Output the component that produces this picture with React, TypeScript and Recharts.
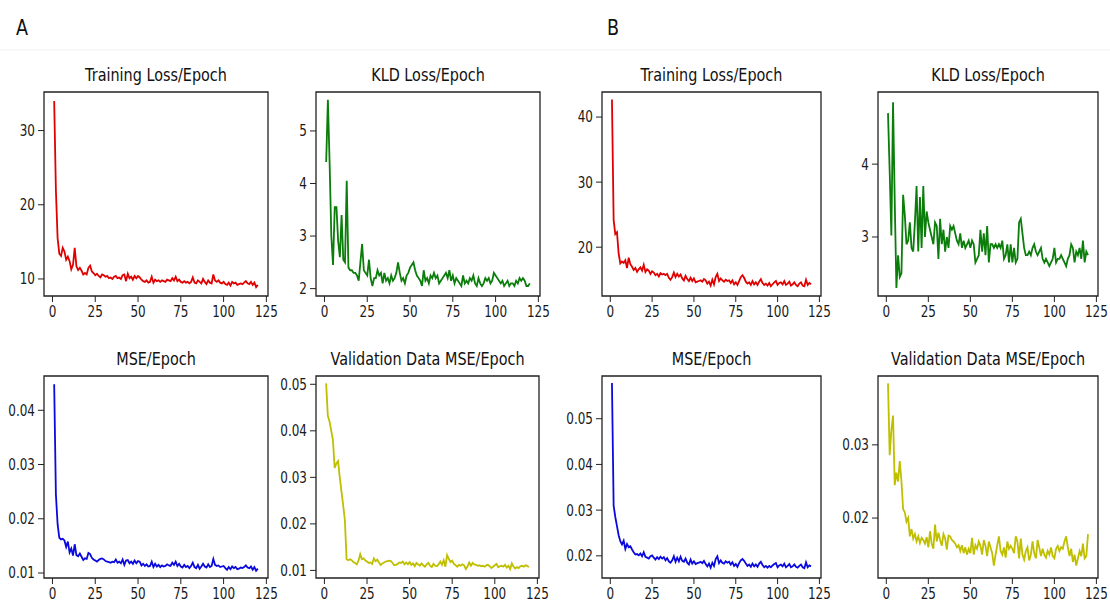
import { LineChart, Line, XAxis, YAxis, ReferenceArea } from "recharts";

// epochs 1..120
const EPOCHS = Array.from({ length: 120 }, (_, i) => i + 1);
const X_TICKS = [0, 25, 50, 75, 100, 125];
const X_DOMAIN: [number, number] = [-4.95, 125.95];

// --- panel A ---
const trainLossA = [
  34.0, 22.0, 15.5, 13.4, 13.1, 14.2, 13.7, 12.6, 13.0, 12.4,
  11.3, 11.9, 14.2, 11.7, 11.2, 11.5, 11.1, 10.6, 10.8, 10.6,
  11.5, 11.8, 11.0, 10.8, 10.5, 10.7, 10.4, 10.2, 10.6, 10.5,
  10.3, 10.4, 10.1, 10.2, 10.0, 10.3, 10.4, 10.1, 10.2, 10.0,
  10.5, 10.6, 9.7, 10.7, 10.1, 10.3, 9.9, 10.4, 10.1, 10.4,
  10.2, 9.9, 9.7, 9.6, 9.8, 9.5, 9.6, 10.3, 9.5, 9.9,
  9.7, 9.8, 9.6, 9.8, 9.7, 9.6, 9.9, 9.8, 9.7, 10.1,
  9.8, 10.3, 9.7, 9.9, 9.6, 9.5, 9.7, 9.5, 9.6, 9.4,
  9.6, 10.2, 9.5, 9.4, 9.8, 9.6, 9.4, 10.0, 9.6, 9.3,
  9.8, 9.5, 9.4, 10.6, 9.8, 9.6, 9.8, 9.5, 9.4, 9.6,
  9.3, 9.2, 9.5, 9.1, 9.6, 9.4, 9.5, 9.2, 9.3, 9.4,
  9.3, 9.5, 9.7, 9.4, 9.3, 9.6, 9.2, 9.5, 8.9, 9.2,
];

const kldLossA = [
  4.41, 5.59, 4.4, 3.0, 2.45, 3.55, 3.55, 2.9, 2.6, 3.4,
  2.55, 2.5, 4.05, 2.4, 2.35, 2.35, 2.3, 2.3, 2.25, 2.15,
  2.5, 2.85, 2.35, 2.3, 2.25, 2.55, 2.2, 2.05, 2.2, 2.2,
  2.35, 2.25, 2.3, 2.1, 2.3, 2.15, 2.2, 2.1, 2.25, 2.15,
  2.2, 2.3, 2.5, 2.3, 2.15, 2.2, 2.1, 2.25, 2.3, 2.4,
  2.45, 2.5, 2.35, 2.25, 2.2, 2.15, 2.05, 2.35, 2.15, 2.2,
  2.1, 2.25, 2.2, 2.3, 2.2, 2.25, 2.1, 2.15, 2.2, 2.25,
  2.3, 2.2, 2.35, 2.15, 2.25, 2.1, 2.2, 2.15, 2.1, 2.05,
  2.25, 2.1, 2.15, 2.1, 2.2, 2.15, 2.25, 2.1, 2.05, 2.2,
  2.1, 2.05, 2.1, 2.2, 2.15, 2.2, 2.1, 2.15, 2.3, 2.25,
  2.2, 2.15, 2.1, 2.15, 2.05, 2.1, 2.15, 2.05, 2.1, 2.1,
  2.05, 2.15, 2.1, 2.2, 2.15, 2.2, 2.15, 2.05, 2.05, 2.1,
];

const mseA = [
  0.0448, 0.0245, 0.019, 0.0165, 0.0162, 0.0163, 0.016, 0.0148, 0.0158, 0.0138,
  0.0145, 0.0132, 0.0153, 0.0133, 0.0131, 0.0136, 0.013, 0.0124, 0.0127, 0.0126,
  0.0137, 0.0135, 0.0128, 0.0125, 0.0123, 0.0121, 0.0124, 0.0126, 0.0127, 0.0125,
  0.0122, 0.0121, 0.012, 0.0119, 0.0121, 0.012, 0.0125, 0.0119, 0.0121, 0.0118,
  0.0125, 0.0115, 0.0123, 0.0124, 0.0118, 0.0121, 0.0117, 0.0123, 0.0118, 0.0122,
  0.0121, 0.0114, 0.0117, 0.0113, 0.0116, 0.0112, 0.0113, 0.0121, 0.0111, 0.0117,
  0.0112, 0.0115, 0.0111, 0.0114, 0.0112, 0.0113, 0.0116, 0.0114, 0.0113, 0.0119,
  0.0115, 0.0121, 0.0113, 0.0117, 0.0112, 0.011, 0.0115, 0.0111, 0.0113, 0.0109,
  0.0113, 0.0119, 0.0111, 0.0109, 0.0115, 0.0108, 0.0112, 0.0117, 0.0112, 0.011,
  0.0116, 0.0111, 0.0113, 0.0126, 0.0115, 0.0113, 0.0114, 0.0111, 0.0112, 0.0113,
  0.0109, 0.0106, 0.0111, 0.0107, 0.0112, 0.0109, 0.0111, 0.0107, 0.0108, 0.011,
  0.0109, 0.0111, 0.0114, 0.011, 0.0109, 0.0112, 0.0106, 0.0111, 0.0104, 0.0108,
];

const valMseA = [
  0.0502, 0.0432, 0.042, 0.04, 0.038, 0.032, 0.033, 0.0335, 0.03, 0.027,
  0.024, 0.0208, 0.0124, 0.0122, 0.0124, 0.0122, 0.0118, 0.0116, 0.0113, 0.0121,
  0.0135, 0.0124, 0.0126, 0.0121, 0.0119, 0.0116, 0.0117, 0.0114, 0.0126, 0.012,
  0.0123, 0.0117, 0.0112, 0.0115, 0.0117, 0.0119, 0.012, 0.0121, 0.012, 0.0116,
  0.0111, 0.0112, 0.0114, 0.0117, 0.0116, 0.0119, 0.0113, 0.0117, 0.0113, 0.0118,
  0.0112, 0.0115, 0.0109, 0.0116, 0.0113, 0.011, 0.0115, 0.0111, 0.0108, 0.0113,
  0.0116, 0.011, 0.0107, 0.0114, 0.011, 0.0109, 0.0113, 0.0119, 0.0112, 0.0122,
  0.0108, 0.0133, 0.0125, 0.0118, 0.0121, 0.0114, 0.0111, 0.0108, 0.0112, 0.011,
  0.0113, 0.0111, 0.0103, 0.0109, 0.0117, 0.011, 0.0116, 0.0113, 0.0112, 0.011,
  0.0111, 0.0109, 0.011, 0.0108, 0.0111, 0.0112, 0.0109, 0.0105, 0.0108, 0.0111,
  0.0114, 0.0107, 0.0109, 0.011, 0.0108, 0.0112, 0.0106, 0.011, 0.0103, 0.0115,
  0.0108, 0.0104, 0.0107, 0.0105, 0.0109, 0.011, 0.0108, 0.0111, 0.011, 0.0107,
];

// --- panel B ---
const trainLossB = [
  42.7, 24.2, 22.0, 22.3, 19.0, 17.5, 17.8, 17.6, 18.0, 16.8,
  18.4, 17.4, 17.0, 16.5, 16.8, 16.2, 16.6, 16.9, 16.4, 17.3,
  16.2, 16.6, 16.4, 15.9, 16.3, 16.1, 15.7, 15.9, 15.5, 16.0,
  15.8, 15.9, 15.7, 15.9, 15.3, 15.0, 15.4, 16.1, 15.4, 15.9,
  15.5, 15.8, 15.2, 14.9, 15.6, 15.1, 14.8, 15.3, 14.8, 15.2,
  14.6, 14.7, 14.8, 14.9, 14.7, 15.1, 14.9, 14.4, 14.7, 14.1,
  15.0, 14.3, 15.4, 15.9, 14.8, 15.2, 14.9, 14.7, 15.0, 14.8,
  14.9, 14.5, 14.9, 14.3, 14.6, 14.2, 14.8, 15.4, 15.7, 15.3,
  14.7, 14.4, 14.6, 14.2, 14.8, 14.3, 14.6, 14.2, 14.7, 15.1,
  14.5, 14.2, 14.4, 14.1, 14.5, 14.0, 14.3, 14.6, 14.8, 14.2,
  14.5, 14.6, 14.3, 14.8, 14.2, 14.4, 14.7, 14.1, 14.3, 14.6,
  14.2, 14.0, 14.4, 14.6, 14.1, 14.0, 15.0, 14.2, 14.5, 14.3,
];

const kldLossB = [
  4.7, 3.9, 3.02, 4.85, 3.5, 2.3, 2.75, 2.45, 2.5, 3.58,
  3.3, 2.9, 2.95, 3.2, 2.85, 2.8, 3.2, 3.7, 2.8, 3.55,
  2.85, 3.7, 3.0, 3.35, 3.2, 3.1, 3.0, 2.9, 3.2, 3.15,
  2.7, 3.25, 2.9, 3.1, 2.8, 3.0, 2.85, 3.15, 3.1, 3.15,
  3.05, 2.95, 2.9, 3.05, 2.85, 2.95, 2.85, 2.9, 2.95, 2.85,
  2.95, 2.9, 2.65, 2.7, 2.75, 3.1, 2.8, 3.05, 2.75, 3.15,
  2.65, 2.9, 2.9, 2.85, 2.9, 2.85, 2.9, 2.85, 2.95, 2.7,
  2.75, 2.9, 2.65, 2.9, 2.65, 2.85, 2.65, 2.7, 3.2, 3.25,
  3.05, 2.85, 2.75, 2.75, 2.8, 2.75, 2.85, 2.9, 2.8, 2.75,
  2.8, 2.85, 2.7, 2.65, 2.7, 2.65, 2.6, 2.65, 2.7, 2.85,
  2.65, 2.7, 2.7, 2.75, 2.7, 2.65, 2.6, 2.7, 2.75, 2.9,
  2.85, 2.65, 2.8, 2.75, 2.85, 2.7, 2.95, 2.65, 2.8, 2.75,
];

const mseB = [
  0.0578, 0.031, 0.0285, 0.0265, 0.0245, 0.0232, 0.0225, 0.0233, 0.0215, 0.0226,
  0.0219, 0.0221, 0.0214, 0.0208, 0.0203, 0.0204, 0.0201, 0.0205, 0.0199, 0.0208,
  0.0198, 0.0196, 0.0194, 0.0199, 0.0201, 0.0196, 0.0192, 0.0197, 0.0193, 0.0198,
  0.0194, 0.0197, 0.019, 0.0195, 0.0188, 0.0185, 0.019, 0.0199, 0.0187, 0.0196,
  0.0188, 0.0198, 0.0189, 0.0187, 0.0194, 0.0185, 0.0181, 0.0192, 0.0183, 0.0188,
  0.0182, 0.0184, 0.0185, 0.0187, 0.0184, 0.0189, 0.0182, 0.0177, 0.0183, 0.0174,
  0.0185, 0.0178, 0.0193, 0.0199, 0.0184, 0.019, 0.0185, 0.0183, 0.0188, 0.0185,
  0.0187, 0.0181, 0.0186, 0.0178, 0.0182, 0.0176, 0.0184, 0.019, 0.0193, 0.0189,
  0.0183, 0.0178, 0.0181, 0.0176, 0.0183, 0.0177, 0.0181, 0.0176, 0.0183, 0.0187,
  0.018, 0.0175, 0.0178, 0.0174, 0.0178, 0.0175, 0.0179, 0.0182, 0.0184, 0.0175,
  0.0179, 0.0181, 0.0177, 0.0183, 0.0175, 0.0178, 0.0182, 0.0175, 0.0177, 0.0181,
  0.0176, 0.0174, 0.0178, 0.0181, 0.0175, 0.0173, 0.0186, 0.0175, 0.0179, 0.0177,
];

const valMseB = [
  0.0384, 0.0286, 0.032, 0.034, 0.0245, 0.0262, 0.025, 0.0278, 0.025, 0.0212,
  0.0208, 0.0195, 0.02, 0.0175, 0.0185, 0.0172, 0.0178, 0.0168, 0.0175, 0.0166,
  0.0173, 0.017, 0.0165, 0.0174, 0.016, 0.0182, 0.0165, 0.0158, 0.0191, 0.0168,
  0.018, 0.017, 0.0162, 0.0178, 0.0172, 0.0157, 0.0176, 0.0175, 0.017, 0.0168,
  0.0165, 0.016, 0.0163, 0.0155, 0.0163, 0.0152, 0.016, 0.015, 0.0158, 0.0152,
  0.0173, 0.015, 0.0163, 0.0158, 0.0168, 0.0162, 0.015, 0.017, 0.0162, 0.0148,
  0.0168, 0.016, 0.0152, 0.0135, 0.015, 0.0163, 0.0175, 0.0155, 0.015, 0.016,
  0.0146, 0.0168, 0.0158, 0.0162, 0.0158, 0.0152, 0.0175, 0.0168, 0.0145, 0.0172,
  0.015, 0.0143, 0.0155, 0.016, 0.0142, 0.015, 0.0168, 0.0152, 0.0145, 0.017,
  0.016, 0.0148, 0.0158, 0.015, 0.0146, 0.0155, 0.015, 0.016, 0.0148, 0.0145,
  0.0158, 0.0162, 0.0155, 0.016, 0.0158, 0.0168, 0.0175, 0.016, 0.0148, 0.0158,
  0.014, 0.015, 0.0135, 0.0145, 0.0155, 0.0148, 0.0165, 0.0145, 0.0148, 0.0178,
];

const RED = "#e00000";
const GREEN = "#0a7d0a";
const BLUE = "#0a0adc";
const YELLOW = "#bfbf00";

const FONT = "'DejaVu Sans', sans-serif";
const TICK_SQUEEZE = 0.8;
const TITLE_SQUEEZE = 0.8;

type Box = { x0: number; x1: number; y0: number; y1: number };

type PanelSpec = {
  title: string;
  values: number[];
  color: string;
  box: Box;
  yDomain: [number, number];
  yTicks: number[];
  fmt: (v: number) => string;
};

const intFmt = (v: number) => String(Math.round(v));
const decFmt = (v: number) => v.toFixed(2);

const TOP = { y0: 92, y1: 296 };
const BOTTOM = { y0: 376, y1: 578 };

const panels: PanelSpec[] = [
  {
    title: "Training Loss/Epoch",
    values: trainLossA,
    color: RED,
    box: { x0: 44, x1: 268, ...TOP },
    yDomain: [7.7, 35.2],
    yTicks: [10, 20, 30],
    fmt: intFmt,
  },
  {
    title: "KLD Loss/Epoch",
    values: kldLossA,
    color: GREEN,
    box: { x0: 316, x1: 540, ...TOP },
    yDomain: [1.86, 5.74],
    yTicks: [2, 3, 4, 5],
    fmt: intFmt,
  },
  {
    title: "Training Loss/Epoch",
    values: trainLossB,
    color: RED,
    box: { x0: 602, x1: 821, ...TOP },
    yDomain: [12.5, 43.85],
    yTicks: [20, 30, 40],
    fmt: intFmt,
  },
  {
    title: "KLD Loss/Epoch",
    values: kldLossB,
    color: GREEN,
    box: { x0: 878, x1: 1098, ...TOP },
    yDomain: [2.19, 4.99],
    yTicks: [3, 4],
    fmt: intFmt,
  },
  {
    title: "MSE/Epoch",
    values: mseA,
    color: BLUE,
    box: { x0: 44, x1: 268, ...BOTTOM },
    yDomain: [0.00908, 0.04632],
    yTicks: [0.01, 0.02, 0.03, 0.04],
    fmt: decFmt,
  },
  {
    title: "Validation Data MSE/Epoch",
    values: valMseA,
    color: YELLOW,
    box: { x0: 316, x1: 539, ...BOTTOM },
    yDomain: [0.00837, 0.05178],
    yTicks: [0.01, 0.02, 0.03, 0.04, 0.05],
    fmt: decFmt,
  },
  {
    title: "MSE/Epoch",
    values: mseB,
    color: BLUE,
    box: { x0: 602, x1: 821, ...BOTTOM },
    yDomain: [0.01515, 0.05935],
    yTicks: [0.02, 0.03, 0.04, 0.05],
    fmt: decFmt,
  },
  {
    title: "Validation Data MSE/Epoch",
    values: valMseB,
    color: YELLOW,
    box: { x0: 878, x1: 1098, ...BOTTOM },
    yDomain: [0.01181, 0.03941],
    yTicks: [0.02, 0.03],
    fmt: decFmt,
  },
];

const YW = 60;
const XH = 34;
const MT = 4;
const MR = 22;

function XTick(props: any) {
  const { x, y, payload } = props;
  return (
    <g transform={`translate(${x},${y})`}>
      <text
        transform={`scale(${TICK_SQUEEZE},1)`}
        textAnchor="middle"
        dy="0.75em"
        fontSize={15}
        fontFamily={FONT}
        fill="#1a1a1a"
      >
        {payload.value}
      </text>
    </g>
  );
}

function makeYTick(fmt: (v: number) => string) {
  return (props: any) => {
    const { x, y, payload } = props;
    return (
      <g transform={`translate(${x},${y})`}>
        <text
          transform={`scale(${TICK_SQUEEZE},1)`}
          textAnchor="end"
          dy="0.36em"
          fontSize={15}
          fontFamily={FONT}
          fill="#1a1a1a"
        >
          {fmt(payload.value)}
        </text>
      </g>
    );
  };
}

function Panel({ p }: { p: PanelSpec }) {
  const w = p.box.x1 - p.box.x0;
  const h = p.box.y1 - p.box.y0;
  const data = EPOCHS.map((epoch, i) => ({ epoch, value: p.values[i] }));
  return (
    <div style={{ position: "absolute", left: p.box.x0 - YW, top: p.box.y0 - MT }}>
      <LineChart
        width={w + YW + MR}
        height={h + MT + XH}
        data={data}
        margin={{ top: MT, right: MR, bottom: 0, left: 0 }}
      >
        <XAxis
          dataKey="epoch"
          type="number"
          domain={X_DOMAIN}
          ticks={X_TICKS}
          interval={0}
          allowDataOverflow
          height={XH}
          axisLine={false}
          tickSize={6}
          tickMargin={4}
          tickLine={{ stroke: "#222", strokeWidth: 1 }}
          tick={(props: any) => <XTick {...props} />}
        />
        <YAxis
          type="number"
          domain={p.yDomain}
          ticks={p.yTicks}
          interval={0}
          allowDataOverflow
          width={YW}
          axisLine={false}
          tickSize={6}
          tickMargin={3}
          tickLine={{ stroke: "#222", strokeWidth: 1 }}
          tick={makeYTick(p.fmt)}
        />
        <Line
          type="linear"
          dataKey="value"
          stroke={p.color}
          strokeWidth={1.8}
          dot={false}
          activeDot={false}
          isAnimationActive={false}
        />
        <ReferenceArea
          x1={X_DOMAIN[0]}
          x2={X_DOMAIN[1]}
          y1={p.yDomain[0]}
          y2={p.yDomain[1]}
          fill="none"
          fillOpacity={0}
          stroke="#222"
          strokeWidth={1.3}
          ifOverflow="visible"
        />
      </LineChart>
    </div>
  );
}

export default function App() {
  return (
    <div
      style={{
        position: "absolute",
        left: 0,
        top: 0,
        width: 1110,
        height: 608,
        background: "#fff",
        overflow: "hidden",
      }}
    >
      {panels.map((p, i) => (
        <Panel key={i} p={p} />
      ))}
      <svg
        width={1110}
        height={608}
        style={{ position: "absolute", left: 0, top: 0, pointerEvents: "none" }}
      >
        <line x1={0} x2={1110} y1={50} y2={50} stroke="#f1f1f1" strokeWidth={1} />
        <text x={16} y={35} fontSize={22} fontFamily={FONT} fill="#111" transform="translate(16,0) scale(0.8,1) translate(-16,0)">
          A
        </text>
        <text x={607} y={35} fontSize={22} fontFamily={FONT} fill="#111" transform="translate(607,0) scale(0.8,1) translate(-607,0)">
          B
        </text>
        {panels.map((p, i) => {
          const cx = (p.box.x0 + p.box.x1) / 2;
          const by = p.box.y0 - 11;
          return (
            <text
              key={i}
              x={cx}
              y={by}
              textAnchor="middle"
              fontSize={18}
              fontFamily={FONT}
              fill="#111"
              transform={`translate(${cx},0) scale(${TITLE_SQUEEZE},1) translate(${-cx},0)`}
            >
              {p.title}
            </text>
          );
        })}
      </svg>
    </div>
  );
}
